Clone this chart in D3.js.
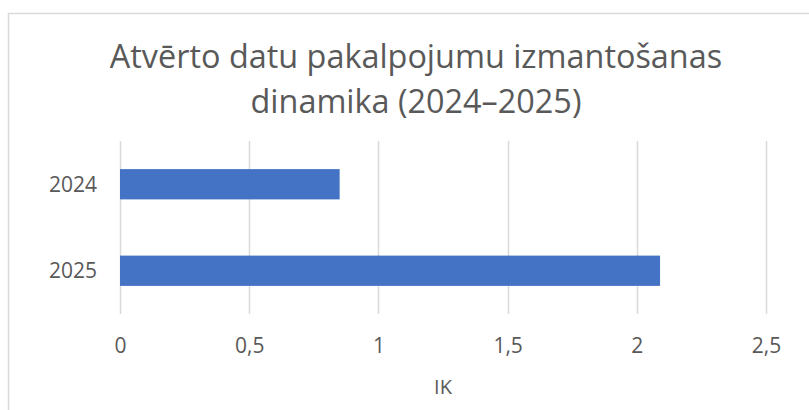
<!DOCTYPE html>
<html>
<head>
<meta charset="utf-8">
<script src="https://cdn.jsdelivr.net/npm/d3@7"></script>
<style>
  body { margin: 0; background: #fff; }
  text { font-family: "Open Sans", sans-serif; fill: #595959; }
</style>
</head>
<body>
<svg id="chart" width="809" height="410"></svg>
<script>
// data
var titleLines = ["Atvērto datu pakalpojumu izmantošanas", "dinamika (2024–2025)"];
var categories = ["2024", "2025"];
var values = [0.85, 2.09];
var xTicks = [0, 0.5, 1, 1.5, 2, 2.5];
var xTitle = "IK";

var svg = d3.select("#chart");

// chart frame
svg.append("rect")
    .attr("x", 8.5).attr("y", 13.5)
    .attr("width", 820).attr("height", 420)
    .attr("fill", "#fff")
    .attr("stroke", "#d9d9d9")
    .attr("stroke-width", 1.5);

var plot = { left: 120, right: 766, top: 141, bottom: 314 };

var x = d3.scaleLinear().domain([0, 2.5]).range([plot.left, plot.right]);
var y = d3.scaleBand().domain(categories).range([plot.top, plot.bottom]).padding(0);
var barH = y.bandwidth() * 0.35;

// title
svg.append("text")
    .attr("text-anchor", "middle")
    .attr("font-size", 32.4)
    .selectAll("tspan")
    .data(titleLines)
    .enter()
    .append("tspan")
        .attr("x", 416)
        .attr("y", function(d, i) { return 68 + i * 45; })
        .text(function(d) { return d; });

// gridlines
svg.append("g")
    .selectAll("line")
    .data(xTicks)
    .enter()
    .append("line")
        .attr("x1", function(d) { return Math.round(x(d)) + 0.5; })
        .attr("x2", function(d) { return Math.round(x(d)) + 0.5; })
        .attr("y1", plot.top)
        .attr("y2", plot.bottom)
        .attr("stroke", "#d9d9d9")
        .attr("stroke-width", 1.5);

// bars
svg.append("g")
    .selectAll("rect")
    .data(categories)
    .enter()
    .append("rect")
        .attr("x", x(0))
        .attr("y", function(d) { return y(d) + (y.bandwidth() - barH) / 2; })
        .attr("width", function(d, i) { return x(values[i]) - x(0); })
        .attr("height", barH)
        .attr("fill", "#4472c4");

// x axis tick labels
var xAxis = d3.axisBottom(x)
    .tickValues(xTicks)
    .tickSize(0)
    .tickPadding(0)
    .tickFormat(function(d) { return String(d).replace(".", ","); });

var gx = svg.append("g")
    .attr("transform", "translate(0," + 353 + ")")
    .call(xAxis);
gx.select(".domain").remove();
gx.selectAll("text")
    .attr("dy", 0)
    .attr("font-size", 21)
    .attr("fill", "#595959")
    .style("font-family", "'Open Sans', sans-serif");

// y axis labels
var yAxis = d3.axisLeft(y).tickSize(0).tickPadding(0);
var gy = svg.append("g")
    .attr("transform", "translate(" + 97 + ",0)")
    .call(yAxis);
gy.select(".domain").remove();
gy.selectAll("text")
    .attr("dy", "0.35em")
    .attr("font-size", 21)
    .attr("fill", "#595959")
    .style("font-family", "'Open Sans', sans-serif");

// axis title
svg.append("text")
    .attr("x", (plot.left + plot.right) / 2)
    .attr("y", 394)
    .attr("text-anchor", "middle")
    .attr("font-size", 20)
    .text(xTitle);
</script>
</body>
</html>
